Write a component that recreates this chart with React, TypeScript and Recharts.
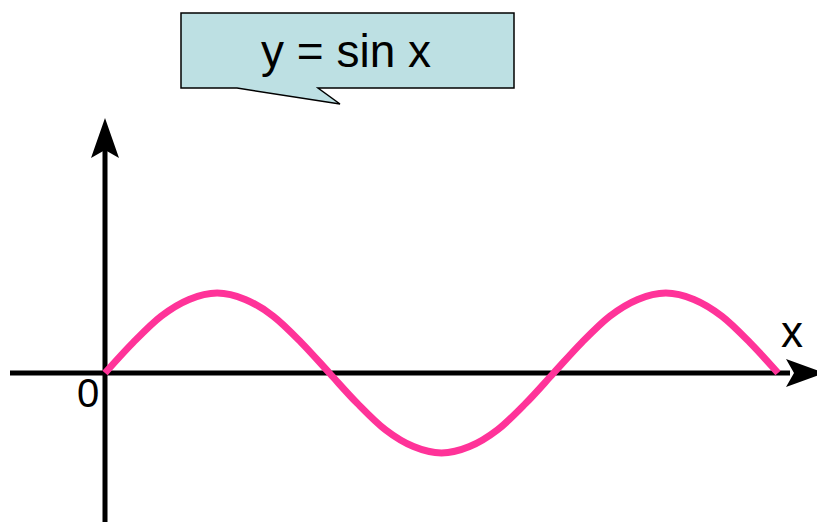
import React from 'react';
import { LineChart, Line, XAxis, YAxis, ReferenceLine } from 'recharts';

// angle in degrees, every 22.5 deg
const angles = [
  0, 22.5, 45, 67.5, 90, 112.5, 135, 157.5, 180, 202.5, 225, 247.5, 270,
  292.5, 315, 337.5, 360, 382.5, 405, 427.5, 450, 472.5, 495, 517.5, 540,
];
const values = [
  0, 0.38, 0.71, 0.92, 1, 0.92, 0.71, 0.38, 0, -0.38, -0.71, -0.92, -1,
  -0.92, -0.71, -0.38, 0, 0.38, 0.71, 0.92, 1, 0.92, 0.71, 0.38, 0,
];
const titleText = 'y = sin x';
const xLabel = 'x';
const originLabel = '0';

const data = angles.map((a, i) => ({ a, y: values[i] }));

const W = 825;
const H = 530;
const font = '"Liberation Sans", Arial, sans-serif';

// x axis with arrow
const XArrow = (props: any) => {
  const { y1, y2 } = props;
  const y = (y1 + y2) / 2;
  return (
    <g>
      <line x1={10} y1={y} x2={790} y2={y} stroke="#000" strokeWidth={5} />
      <path d={`M825,${y} L786,${y - 14} L794,${y} L786,${y + 14} Z`} fill="#000" />
    </g>
  );
};

// y axis with arrow
const YArrow = (props: any) => {
  const { x1, x2 } = props;
  const x = (x1 + x2) / 2;
  return (
    <g>
      <line x1={x} y1={150} x2={x} y2={H} stroke="#000" strokeWidth={5} />
      <path d={`M${x},118 L${x - 14},158 L${x},150 L${x + 14},158 Z`} fill="#000" />
    </g>
  );
};

export default function App() {
  return (
    <div style={{ position: 'relative', width: W, height: H, margin: -8 }}>
      <LineChart width={W} height={H} data={data} margin={{ top: 0, right: 0, bottom: 0, left: 0 }}>
        <XAxis dataKey="a" type="number" domain={[-84.25, 577.7]} allowDataOverflow hide />
        <YAxis type="number" domain={[-1.9625, 4.6625]} allowDataOverflow hide />
        <ReferenceLine y={0} shape={XArrow} ifOverflow="visible" />
        <ReferenceLine x={0} shape={YArrow} ifOverflow="visible" />
        <Line
          dataKey="y"
          type="monotone"
          stroke="#ff3399"
          strokeWidth={7}
          dot={false}
          isAnimationActive={false}
        />
      </LineChart>
      <svg
        width={W}
        height={H}
        style={{ position: 'absolute', left: 0, top: 0, pointerEvents: 'none' }}
      >
        <path
          d="M181,13 L514,13 L514,88 L318,88 L340,104 L237,88 L181,88 Z"
          fill="#bde0e3"
          stroke="#000"
          strokeWidth={1.5}
        />
        <text x={346} y={67} textAnchor="middle" fontSize={46} fontFamily={font} fill="#000">
          {titleText}
        </text>
        <text x={792} y={347} textAnchor="middle" fontSize={44} fontFamily={font} fill="#000">
          {xLabel}
        </text>
        <text x={88} y={407} textAnchor="middle" fontSize={40} fontFamily={font} fill="#000">
          {originLabel}
        </text>
      </svg>
    </div>
  );
}
